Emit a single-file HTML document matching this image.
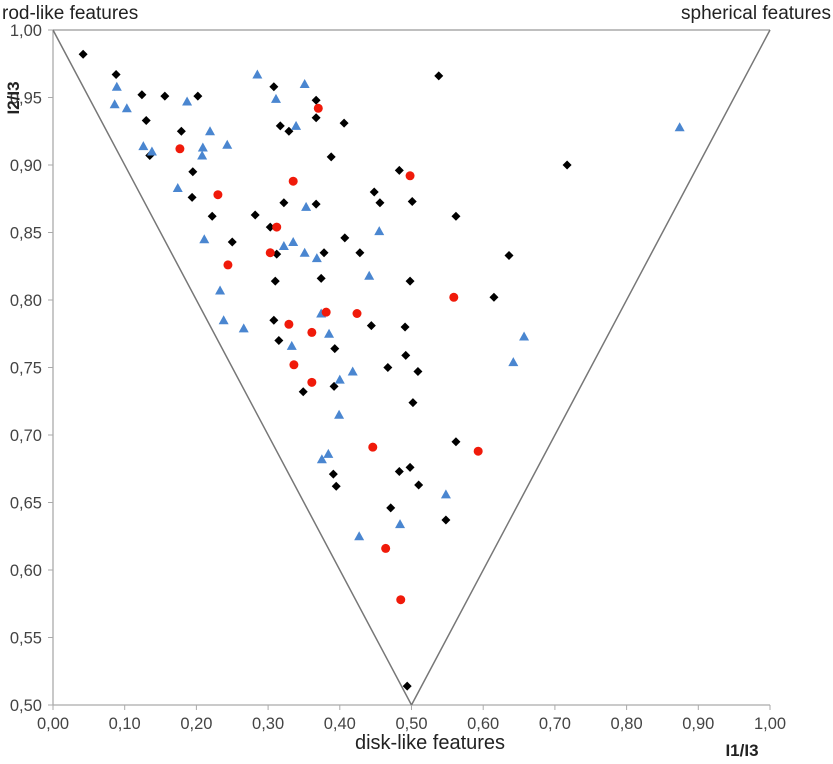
<!DOCTYPE html>
<html><head><meta charset="utf-8"><style>
body{margin:0;background:#fff;}
svg{display:block;font-family:"Liberation Sans",Arial,sans-serif;}
</style></head><body>
<svg id="chart" width="833" height="764" viewBox="0 0 833 764">
<g id="axes"></g>
<g id="marks"></g>
<text x="2" y="19" font-size="19" fill="#222">rod-like features</text>
<text x="831" y="19" font-size="19" fill="#222" text-anchor="end">spherical features</text>
<text x="430" y="749" font-size="20" fill="#222" text-anchor="middle">disk-like features</text>
<text x="742" y="756" font-size="17" font-weight="bold" fill="#222" text-anchor="middle">I1/I3</text>
<text x="0" y="0" font-size="17" font-weight="bold" fill="#222" text-anchor="middle" transform="translate(19,98) rotate(-90)">I2/I3</text>
</svg>
<script>
const xTicks=["0,00","0,10","0,20","0,30","0,40","0,50","0,60","0,70","0,80","0,90","1,00"];
const yTicks=["0,50","0,55","0,60","0,65","0,70","0,75","0,80","0,85","0,90","0,95","1,00"];
const blackX=[.042,.088,.124,.156,.202,.130,.179,.135,.195,.194,.222,.282,.303,.250,.312,.378,.310,.374,.308,.315,.393,.308,.367,.367,.317,.329,.388,.406,.538,.483,.448,.456,.501,.322,.367,.562,.407,.428,.636,.498,.615,.444,.491,.492,.467,.509,.349,.392,.502,.562,.498,.483,.391,.395,.510,.471,.548,.494,.717];
const blackY=[.982,.967,.952,.951,.951,.933,.925,.907,.895,.876,.862,.863,.854,.843,.834,.835,.814,.816,.785,.770,.764,.958,.948,.935,.929,.925,.906,.931,.966,.896,.880,.872,.873,.872,.871,.862,.846,.835,.833,.814,.802,.781,.780,.759,.750,.747,.732,.736,.724,.695,.676,.673,.671,.662,.663,.646,.637,.514,.900];
const redX=[.370,.177,.335,.230,.498,.312,.303,.244,.559,.381,.424,.329,.361,.336,.361,.446,.593,.464,.485];
const redY=[.942,.912,.888,.878,.892,.854,.835,.826,.802,.791,.790,.782,.776,.752,.739,.691,.688,.616,.578];
const blueX=[.285,.089,.086,.103,.187,.351,.311,.219,.243,.209,.208,.126,.138,.339,.174,.353,.455,.322,.335,.351,.368,.441,.211,.233,.238,.266,.374,.385,.333,.418,.400,.399,.384,.375,.548,.484,.427,.642,.657,.874];
const blueY=[.967,.958,.945,.942,.947,.960,.949,.925,.915,.913,.907,.914,.910,.929,.883,.869,.851,.840,.843,.835,.831,.818,.845,.807,.785,.779,.790,.775,.766,.747,.741,.715,.686,.682,.656,.634,.625,.754,.773,.928];

const X0=53,X1=770,Y0=705,Y1=30;
const sx=v=>X0+(X1-X0)*v;
const sy=v=>Y0-(Y0-Y1)*(v-0.5)/0.5;
const NS="http://www.w3.org/2000/svg";
const axes=document.getElementById('axes'),marks=document.getElementById('marks');
function mk(tag,attrs,parent){const e=document.createElementNS(NS,tag);for(const k in attrs)e.setAttribute(k,attrs[k]);parent.appendChild(e);return e;}

let e;
e=mk('line',{x1:X0,y1:Y1,x2:X1,y2:Y1,stroke:'#999','stroke-width':1.3},axes);


e=mk('line',{x1:X0,y1:Y1,x2:X0,y2:Y0,stroke:'#aaa','stroke-width':1.3},axes);


e=mk('line',{x1:X0,y1:Y0,x2:X1,y2:Y0,stroke:'#aaa','stroke-width':1.3},axes);


e=mk('polyline',{points:`${sx(0)},${sy(1)} ${sx(0.5)},${sy(0.5)} ${sx(1)},${sy(1)}`,fill:'none',stroke:'#777','stroke-width':1.5},axes);



xTicks.forEach((t,i)=>{const x=sx(i/10);
 let l=mk('line',{x1:x,y1:Y0,x2:x,y2:Y0+5,stroke:'#aaa'},axes);
 
 
 let tx=mk('text',{x:x,y:729,'font-size':16.5,'text-anchor':'middle',fill:'#444'},axes);tx.textContent=t;
 
 
});
yTicks.forEach((t,i)=>{const y=sy(0.5+i*0.05);
 let l=mk('line',{x1:X0-5,y1:y,x2:X0,y2:y,stroke:'#aaa'},axes);
 
 
 let tx=mk('text',{x:42,y:y+6,'font-size':16.5,'text-anchor':'end',fill:'#444'},axes);tx.textContent=t;
 
 
});

blackX.forEach((v,i)=>{const cx=sx(v),cy=sy(blackY[i]);
 const p=mk('polygon',{points:`${cx},${cy-4.5} ${cx+4.5},${cy} ${cx},${cy+4.5} ${cx-4.5},${cy}`,fill:'#000'},marks);
 
 
});
blueX.forEach((v,i)=>{const cx=sx(v),cy=sy(blueY[i]);
 const p=mk('polygon',{points:`${cx},${cy-5} ${cx+5},${cy+4} ${cx-5},${cy+4}`,fill:'#4a86d0'},marks);
 
 
});
redX.forEach((v,i)=>{
 const c=mk('circle',{cx:sx(v),cy:sy(redY[i]),r:4.5,fill:'#f01a0a'},marks);
 
 
});
</script>
</body></html>
